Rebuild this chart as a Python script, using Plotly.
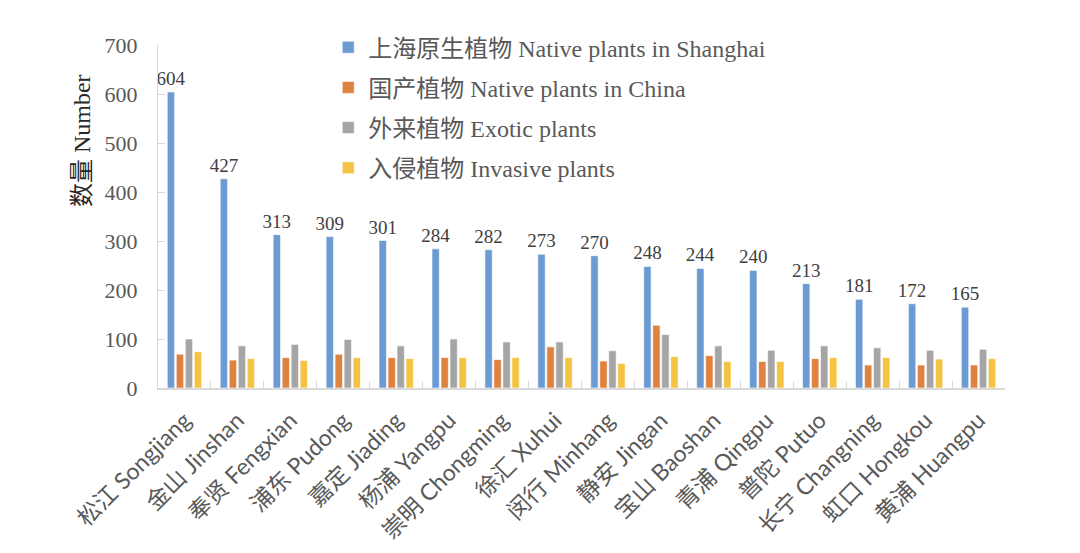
import plotly.graph_objects as go

districts = ["松江 Songjiang", "金山 Jinshan", "奉贤 Fengxian", "浦东 Pudong", "嘉定 Jiading",
             "杨浦 Yangpu", "崇明 Chongming", "徐汇 Xuhui", "闵行 Minhang", "静安 Jingan",
             "宝山 Baoshan", "青浦 Qingpu", "普陀 Putuo", "长宁 Changning", "虹口 Hongkou", "黄浦 Huangpu"]
native_sh = [604, 427, 313, 309, 301, 284, 282, 273, 270, 248, 244, 240, 213, 181, 172, 165]
native_cn = [69, 57, 62, 69, 62, 62, 58, 84, 55, 128, 66, 54, 60, 47, 47, 47]
exotic = [100, 86, 89, 99, 86, 100, 94, 94, 76, 109, 86, 77, 86, 82, 77, 79]
invasive = [74, 60, 56, 62, 60, 62, 62, 62, 50, 64, 54, 54, 62, 62, 59, 60]

series_names = ["上海原生植物 Native plants in Shanghai", "国产植物 Native plants in China",
                "外来植物 Exotic plants", "入侵植物 Invasive plants"]
series_vals = [native_sh, native_cn, exotic, invasive]
colors = ["#6B9BD2", "#E0823F", "#A5A5A5", "#F5C342"]

serif = "Times New Roman, Liberation Serif, Noto Sans CJK SC, serif"
sans = "Lato, Noto Sans CJK SC, sans-serif"

fig = go.Figure()
for i, (name, vals, col) in enumerate(zip(series_names, series_vals, colors)):
    kw = {}
    if i == 0:
        kw = dict(text=[str(v) for v in vals], textposition="outside", constraintext="none",
                  textfont=dict(family=serif, size=19, color="#404040"), cliponaxis=False)
    fig.add_trace(go.Bar(x=districts, y=vals, name=name, marker_color=col,
                         marker_line=dict(color="white", width=0.6),
                         legendgroup=f"g{i}", hoverinfo="x+y", **kw))

fig.add_annotation(xref="paper", yref="paper", x=-0.0897, y=0.72, text="数量 Number",
                   textangle=-90, showarrow=False, xanchor="center", yanchor="middle",
                   font=dict(family=serif, size=24, color="#262626"))

fig.update_layout(
    width=1080, height=553,
    margin=dict(l=150, r=83, t=37, b=173),
    paper_bgcolor="white", plot_bgcolor="white",
    barmode="group", bargap=0.32, bargroupgap=0.18,
    legend=dict(x=0.201, y=1.058, xanchor="left", yanchor="top",
                font=dict(family=serif, size=24, color="#595959"),
                tracegroupgap=6, traceorder="grouped", bgcolor="rgba(0,0,0,0)"),
    xaxis=dict(showline=True, linecolor="#D9D9D9", linewidth=1.5, ticks="inside",
               tickson="boundaries", ticklen=7, tickcolor="#D9D9D9", tickangle=-45,
               ticklabelstandoff=8,
               tickfont=dict(family=sans, size=23, color="#595959")),
    yaxis=dict(range=[0, 700], dtick=100, showgrid=False, showline=True, linecolor="#D9D9D9",
               linewidth=1, ticks="inside", ticklen=7, tickcolor="#D9D9D9", zeroline=False,
               ticklabelstandoff=15,
               tickfont=dict(family=serif, size=22, color="#595959")),
)

fig.write_html("out.html")
